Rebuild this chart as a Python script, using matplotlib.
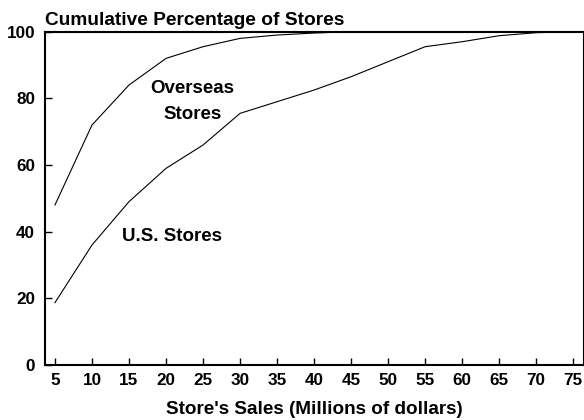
import matplotlib
matplotlib.use("Agg")
import matplotlib.pyplot as plt

sales = [5, 10, 15, 20, 25, 30, 35, 40, 45, 50, 55, 60, 65, 70, 75]
overseas = [48, 72, 84, 92, 95.5, 98, 99, 99.6, 100, 100, 100, 100, 100, 100, 100]
us = [18.7, 36, 49, 59, 66, 75.5, 79, 82.5, 86.5, 91, 95.5, 97, 98.8, 99.7, 100]
yticks = [0, 20, 40, 60, 80, 100]

plt.rcParams['font.family'] = ['Liberation Sans', 'DejaVu Sans']
fig = plt.figure(figsize=(5.84, 4.20), dpi=100)
ax = fig.add_axes([0.077, 0.131, 0.921, 0.7935])
ax.plot(sales, overseas, color='black', lw=0.8)
ax.plot(sales, us, color='black', lw=0.8)
ax.set_xlim(3.65, 76.3)
ax.set_ylim(0, 100)
ax.set_xticks(sales)
ax.set_yticks(yticks)
ax.tick_params(direction='in', length=5, width=1, labelsize=12.3)
ax.tick_params(axis='x', pad=6)
ax.tick_params(axis='y', pad=7)
for lab in ax.get_xticklabels() + ax.get_yticklabels():
    lab.set_fontweight('bold')
for s in ['left', 'bottom', 'top']:
    ax.spines[s].set_linewidth(1.5)
ax.spines['right'].set_linewidth(0.8)
fig.text(45 / 584, 1 - 25 / 420, 'Cumulative Percentage of Stores',
         fontsize=13.8, fontweight='bold', ha='left', va='baseline')
fig.text(314 / 584, 1 - 414 / 420, "Store's Sales (Millions of dollars)",
         fontsize=13.6, fontweight='bold', ha='center', va='baseline')
ax.text(23.6, 81.6, 'Overseas', fontsize=13.5, fontweight='bold', ha='center', va='baseline')
ax.text(23.6, 73.8, 'Stores', fontsize=13.5, fontweight='bold', ha='center', va='baseline')
ax.text(20.8, 37.3, 'U.S. Stores', fontsize=13.5, fontweight='bold', ha='center', va='baseline')
fig.savefig('out.png', dpi=100)
